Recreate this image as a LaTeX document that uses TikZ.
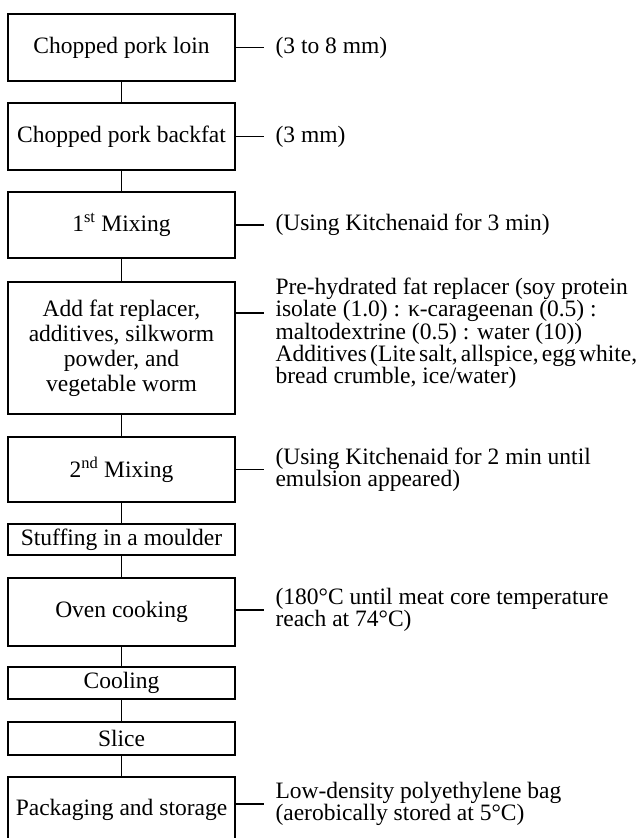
\documentclass[tikz,border=0pt]{standalone}
\usepackage{fontspec}
\setmainfont{Liberation Serif}
\usepackage{tikz}
\usetikzlibrary{positioning}

\newcommand{\tsp}{\hspace{0.14em}}

\begin{document}
\begin{tikzpicture}[x=1pt, y=-1pt, line width=1.1pt,
	stage/.style={draw, minimum width=227pt, align=center, inner sep=0pt,
		font=\fontsize{23.5}{25}\selectfont},
	note/.style={anchor=west, align=left, inner xsep=11pt, inner ysep=0pt,
		font=\fontsize{23.5}{20.7}\selectfont}]
	\useasboundingbox (0,0) rectangle (640,838);
	% process steps
	\node[stage, minimum height=67pt] (b1) at (121.5,47.5) {Chopped pork loin};
	\node[stage, minimum height=67pt] (b2) at (121.5,136.5) {Chopped pork backfat};
	\node[stage, minimum height=66pt] (b3) at (121.5,225) {1\textsuperscript{st} Mixing};
	\node[stage, minimum height=132pt] (b4) at (121.5,348) {Add fat replacer,\\additives, silkworm\\powder, and\\vegetable worm};
	\node[stage, minimum height=65pt] (b5) at (121.5,469.5) {2\textsuperscript{nd} Mixing};
	\node[stage, minimum height=31pt] (b6) at (121.5,539.5) {Stuffing in a moulder};
	\node[stage, minimum height=68pt] (b7) at (121.5,612) {Oven cooking};
	\node[stage, minimum height=32pt] (b8) at (121.5,683) {Cooling};
	\node[stage, minimum height=33pt] (b9) at (121.5,738.5) {Slice};
	\node[stage, minimum height=66pt] (b10) at (121.5,810) {Packaging and storage};
	\foreach \a/\b in {1/2,2/3,3/4,4/5,5/6,6/7,7/8,8/9,9/10} {
		\draw (b\a) -- (b\b);
	}
	% side notes
	\node[note] (n1) at (264,47.5) {(3 to 8 mm)};
	\node[note] (n2) at (264,136.5) {(3 mm)};
	\node[note] (n3) at (264,225) {(Using Kitchenaid for 3 min)};
	\node[note] (n4) at (264,333.5) {Pre-hydrated fat replacer (soy protein\\isolate (1.0) : κ-carageenan (0.5) :\\maltodextrine (0.5) : water (10))\\Additives\tsp(Lite\tsp salt,\tsp allspice,\tsp egg\tsp white,\\bread crumble, ice/water)};
	\node[note] (n5) at (264,469.5) {(Using Kitchenaid for 2 min until\\emulsion appeared)};
	\node[note] (n7) at (264,610) {(180°C until meat core temperature\\reach at 74°C)};
	\node[note] (n10) at (264,804) {Low-density polyethylene bag\\(aerobically stored at 5°C)};
	\foreach \i in {1,2,3,5,7,10} {
		\draw (b\i.east |- n\i.west) -- (n\i.west);
	}
	\coordinate (c4) at (264,313);
	\draw (b4.east |- c4) -- (c4);
\end{tikzpicture}
\end{document}
